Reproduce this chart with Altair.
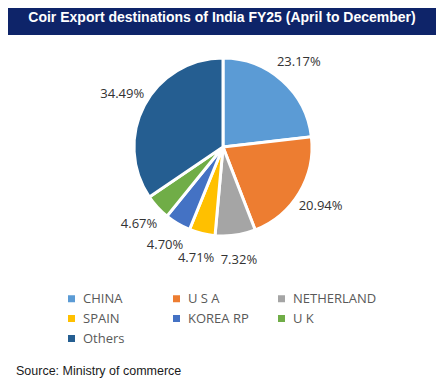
import altair as alt
import pandas as pd

countries = ["CHINA", "U S A", "NETHERLAND", "SPAIN", "KOREA RP", "U K", "Others"]
shares = [23.17, 20.94, 7.32, 4.71, 4.70, 4.67, 34.49]
colors = ["#5B9BD5", "#ED7D31", "#A5A5A5", "#FFC000", "#4472C4", "#70AD47", "#255E91"]
title_text = "Coir Export destinations of India FY25 (April to December)"
source_text = "Source: Ministry of commerce"

df = pd.DataFrame({"country": countries, "share": shares, "idx": list(range(len(countries)))})

W, H = 428, 372
CX, CY = 215, 139

base = alt.Chart(df).encode(
    theta=alt.Theta("share:Q", stack=True),
    order=alt.Order("idx:Q"),
)

pie = base.mark_arc(outerRadius=89, stroke="white", strokeWidth=3).encode(
    x=alt.value(CX),
    y=alt.value(CY),
    color=alt.Color(
        "country:N",
        scale=alt.Scale(domain=countries, range=colors),
        sort=countries,
        legend=alt.Legend(
            title=None, orient="none", direction="horizontal",
            legendX=57, legendY=284, columns=3,
            symbolType="square", symbolSize=49, symbolStrokeWidth=0,
            labelFont="Open Sans", labelFontSize=13, labelColor="#595959",
            labelOffset=5, columnPadding=3, rowPadding=6, gridAlign="all", padding=0,
        ),
    ),
)

labels = base.transform_calculate(
    lbl="format(datum.share, '.2f') + '%'"
).mark_text(
    radius=114, font="Open Sans", fontSize=13, color="#333333",
    align="center", baseline="middle",
).encode(
    x=alt.value(CX),
    y=alt.value(CY),
    text="lbl:N",
    detail="country:N",
)

tdf = pd.DataFrame({"t": [title_text]})
bar = alt.Chart(tdf).mark_rect(color="#0E2469").encode(
    x=alt.value(0), x2=alt.value(W), y=alt.value(0), y2=alt.value(27)
)
title = alt.Chart(tdf).mark_text(
    font="Liberation Sans", fontSize=14, fontWeight="bold", color="white",
    align="center", baseline="middle",
).encode(x=alt.value(214), y=alt.value(10), text="t:N")

sdf = pd.DataFrame({"s": [source_text]})
source = alt.Chart(sdf).mark_text(
    font="Liberation Sans", fontSize=12.5, color="#1a1a1a",
    align="left", baseline="middle",
).encode(x=alt.value(8), y=alt.value(363), text="s:N")

chart = alt.layer(bar, title, pie, labels, source).properties(
    width=W, height=H, autosize=alt.AutoSizeParams(type="none"), padding=0,
    background="white",
).configure_view(stroke=None)

chart.save("out.html", embed_options={"renderer": "svg", "actions": False})
